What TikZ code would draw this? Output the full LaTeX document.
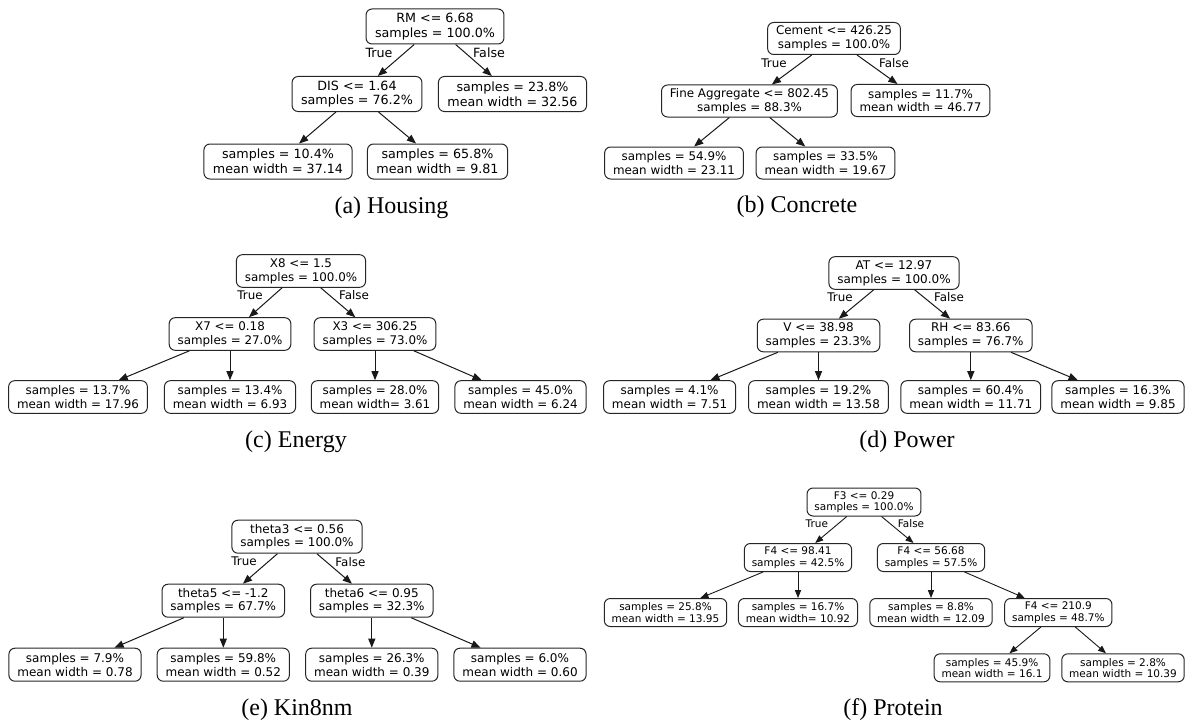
\documentclass[tikz,border=0pt]{standalone}
\usepackage{fontspec}
\setmainfont{Liberation Serif}
\newfontfamily\gvfont{DejaVu Sans}
\usetikzlibrary{arrows.meta}
\tikzset{
  tb/.style={draw=black!85, line width=0.5pt, rounded corners=3pt, align=center, inner ysep=0pt, fill=white},
  boxH/.style={tb, font=\gvfont\fontsize{6.35}{7.3}\selectfont, minimum height=17.5pt, inner xsep=4.5pt},
  boxC/.style={tb, font=\gvfont\fontsize{5.95}{6.8}\selectfont, minimum height=16pt, inner xsep=4.2pt},
  boxE/.style={tb, font=\gvfont\fontsize{5.95}{6.9}\selectfont, minimum height=16.3pt, inner xsep=4.2pt},
  boxP/.style={tb, font=\gvfont\fontsize{6.0}{6.9}\selectfont, minimum height=16.3pt, inner xsep=4.2pt},
  boxK/.style={tb, font=\gvfont\fontsize{6.0}{6.9}\selectfont, minimum height=16.5pt, inner xsep=4.2pt},
  boxR/.style={tb, font=\gvfont\fontsize{5.25}{5.7}\selectfont, minimum height=14pt, inner xsep=3.7pt},
  labH/.style={inner sep=0pt, font=\gvfont\fontsize{6.35}{7.3}\selectfont},
  labM/.style={inner sep=0pt, font=\gvfont\fontsize{5.95}{6.9}\selectfont},
  labR/.style={inner sep=0pt, font=\gvfont\fontsize{5.25}{5.7}\selectfont},
  arr/.style={draw=black!90, line width=0.5pt, -{Triangle[length=4.6pt,width=3.6pt]}},
  arrR/.style={draw=black!90, line width=0.45pt, -{Triangle[length=4pt,width=3.1pt]}},
  captxt/.style={font=\fontsize{12}{14}\selectfont, anchor=base, inner sep=0pt}
}
\begin{document}
\begin{tikzpicture}[x=0.5pt,y=-0.5pt]
\useasboundingbox[fill=white] (0,0) rectangle (1192,722);

% (a) Housing
\node[boxH] (hA) at (435,26.5) {RM <= 6.68\\samples = 100.0\%};
\node[boxH] (hB) at (357,94) {DIS <= 1.64\\samples = 76.2\%};
\node[boxH] (hC) at (512.5,94) {samples = 23.8\%\\mean width = 32.56};
\node[boxH] (hD) at (278,161.5) {samples = 10.4\%\\mean width = 37.14};
\node[boxH] (hE) at (437.5,161.5) {samples = 65.8\%\\mean width = 9.81};
\draw[arr] (hA) -- (hB);
\draw[arr] (hA) -- (hC);
\draw[arr] (hB) -- (hD);
\draw[arr] (hB) -- (hE);
\node[labH] (hT) at (379,53) {True};
\node[labH] (hF) at (489,53) {False};
\node[captxt] (hCap) at (391.5,213) {(a) Housing};

% (b) Concrete
\node[boxC] (cA) at (834,38.5) {Cement <= 426.25\\samples = 100.0\%};
\node[boxC] (cB) at (749.5,101) {Fine Aggregate <= 802.45\\samples = 88.3\%};
\node[boxC] (cC) at (920.5,100.5) {samples = 11.7\%\\mean width = 46.77};
\node[boxC] (cD) at (674,163) {samples = 54.9\%\\mean width = 23.11};
\node[boxC] (cE) at (825.5,163) {samples = 33.5\%\\mean width = 19.67};
\draw[arr] (cA) -- (cB);
\draw[arr] (cA) -- (cC);
\draw[arr] (cB) -- (cD);
\draw[arr] (cB) -- (cE);
\node[labM] (cT) at (774,63) {True};
\node[labM] (cF) at (894,63) {False};
\node[captxt] (cCap) at (797,212) {(b) Concrete};

% (c) Energy
\node[boxE] (eA) at (301,271) {X8 <= 1.5\\samples = 100.0\%};
\node[boxE] (eB) at (230,334) {X7 <= 0.18\\samples = 27.0\%};
\node[boxE] (eC) at (375,334) {X3 <= 306.25\\samples = 73.0\%};
\node[boxE] (eD) at (78,397) {samples = 13.7\%\\mean width = 17.96};
\node[boxE] (eE) at (230,397) {samples = 13.4\%\\mean width = 6.93};
\node[boxE] (eF) at (375,397) {samples = 28.0\%\\mean width= 3.61};
\node[boxE] (eG) at (520.5,397) {samples = 45.0\%\\mean width = 6.24};
\draw[arr] (eA) -- (eB);
\draw[arr] (eA) -- (eC);
\draw[arr] (eB) -- (eD);
\draw[arr] (eB) -- (eE);
\draw[arr] (eC) -- (eF);
\draw[arr] (eC) -- (eG);
\node[labM] (eT) at (250,295) {True};
\node[labM] (eFl) at (354,295) {False};
\node[captxt] (eCap) at (296,447) {(c) Energy};

% (d) Power
\node[boxP] (pA) at (894,273) {AT <= 12.97\\samples = 100.0\%};
\node[boxP] (pB) at (818.5,335.5) {V <= 38.98\\samples = 23.3\%};
\node[boxP] (pC) at (970.8,335.5) {RH <= 83.66\\samples = 76.7\%};
\node[boxP] (pD) at (669.6,397) {samples = 4.1\%\\mean width = 7.51};
\node[boxP] (pE) at (818.5,397) {samples = 19.2\%\\mean width = 13.58};
\node[boxP] (pF) at (970.8,397) {samples = 60.4\%\\mean width = 11.71};
\node[boxP] (pG) at (1118,397) {samples = 16.3\%\\mean width = 9.85};
\draw[arr] (pA) -- (pB);
\draw[arr] (pA) -- (pC);
\draw[arr] (pB) -- (pD);
\draw[arr] (pB) -- (pE);
\draw[arr] (pC) -- (pF);
\draw[arr] (pC) -- (pG);
\node[labM] (pT) at (840,297) {True};
\node[labM] (pFl) at (949,297) {False};
\node[captxt] (pCap) at (907,447) {(d) Power};

% (e) Kin8nm
\node[boxK] (kA) at (297,536.7) {theta3 <= 0.56\\samples = 100.0\%};
\node[boxK] (kB) at (223.3,600.7) {theta5 <= -1.2\\samples = 67.7\%};
\node[boxK] (kC) at (371.8,600.7) {theta6 <= 0.95\\samples = 32.3\%};
\node[boxK] (kD) at (75,664.7) {samples = 7.9\%\\mean width = 0.78};
\node[boxK] (kE) at (223.3,664.7) {samples = 59.8\%\\mean width = 0.52};
\node[boxK] (kF) at (371.8,664.7) {samples = 26.3\%\\mean width = 0.39};
\node[boxK] (kG) at (520,664.7) {samples = 6.0\%\\mean width = 0.60};
\draw[arr] (kA) -- (kB);
\draw[arr] (kA) -- (kC);
\draw[arr] (kB) -- (kD);
\draw[arr] (kB) -- (kE);
\draw[arr] (kC) -- (kF);
\draw[arr] (kC) -- (kG);
\node[labM] (kT) at (244,561.7) {True};
\node[labM] (kFl) at (350.4,561.7) {False};
\node[captxt] (kCap) at (297,715) {(e) Kin8nm};

% (f) Protein
\node[boxR] (rA) at (864,502) {F3 <= 0.29\\samples = 100.0\%};
\node[boxR] (rB) at (798,557.5) {F4 <= 98.41\\samples = 42.5\%};
\node[boxR] (rC) at (931,557.5) {F4 <= 56.68\\samples = 57.5\%};
\node[boxR] (rD) at (665.5,612.5) {samples = 25.8\%\\mean width = 13.95};
\node[boxR] (rE) at (798,612.5) {samples = 16.7\%\\mean width= 10.92};
\node[boxR] (rF) at (931,612.5) {samples = 8.8\%\\mean width = 12.09};
\node[boxR] (rG) at (1058.3,612.5) {F4 <= 210.9\\samples = 48.7\%};
\node[boxR] (rH) at (992,667.8) {samples = 45.9\%\\mean width = 16.1};
\node[boxR] (rI) at (1123,667.8) {samples = 2.8\%\\mean width = 10.39};
\draw[arrR] (rA) -- (rB);
\draw[arrR] (rA) -- (rC);
\draw[arrR] (rB) -- (rD);
\draw[arrR] (rB) -- (rE);
\draw[arrR] (rC) -- (rF);
\draw[arrR] (rC) -- (rG);
\draw[arrR] (rG) -- (rH);
\draw[arrR] (rG) -- (rI);
\node[labR] (rT) at (816.8,524) {True};
\node[labR] (rFl) at (911,524) {False};
\node[captxt] (rCap) at (893,715) {(f) Protein};
\end{tikzpicture}
\end{document}
